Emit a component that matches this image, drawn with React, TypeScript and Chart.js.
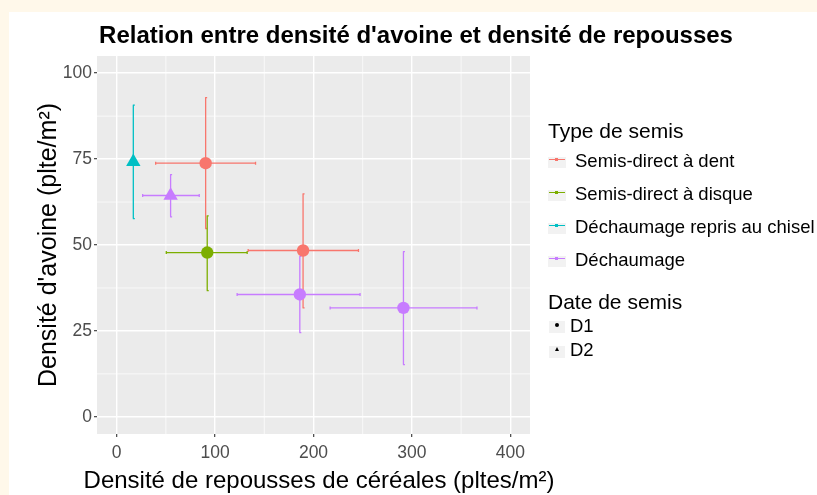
import React, { useEffect, useRef } from "react";
import { Chart, registerables } from "chart.js";
Chart.register(...registerables);

const FONT = "'Liberation Sans', Arial, Helvetica, sans-serif";

const chartTitle = "Relation entre densité d'avoine et densité de repousses";
const xTitle = "Densité de repousses de céréales (pltes/m²)";
const yTitle = "Densité d'avoine (plte/m²)";

const categories = [
  "Semis-direct à dent",
  "Semis-direct à disque",
  "Déchaumage repris au chisel",
  "Déchaumage",
];
const categoryColors = ["#F8766D", "#7CAE00", "#00BFC4", "#C77CFF"];
const dates = ["D1", "D2"];

// one entry per observation
const obsType = [0, 0, 1, 2, 3, 3, 3];
const obsDate = [0, 0, 0, 1, 1, 0, 0];
const repousses = [90.4, 189.4, 92.0, 16.9, 54.8, 186.1, 291.4];
const avoine = [73.8, 48.4, 47.8, 74.2, 64.4, 35.6, 31.7];
const repoussesMin: (number | null)[] = [39.6, 133.6, 50.4, null, 26.4, 122.4, 216.9];
const repoussesMax: (number | null)[] = [141.1, 245.7, 132.6, null, 83.9, 247.3, 366.1];
const avoineMin = [54.8, 31.7, 36.7, 57.7, 58.2, 24.5, 15.2];
const avoineMax = [92.9, 64.9, 58.5, 90.7, 70.5, 46.7, 48.1];

const xTicks = [0, 100, 200, 300, 400];
const yTicks = [0, 25, 50, 75, 100];
const xMinor = [50, 150, 250, 350];
const yMinor = [12.5, 37.5, 62.5, 87.5];

const panelPlugin = {
  id: "panelBg",
  beforeDraw(chart: any) {
    const { ctx, chartArea: a, scales } = chart;
    ctx.save();
    ctx.fillStyle = "#EBEBEB";
    ctx.fillRect(a.left, a.top, a.right - a.left, a.bottom - a.top);
    ctx.strokeStyle = "#FFFFFF";
    ctx.lineWidth = 0.7;
    ctx.beginPath();
    for (const v of xMinor) {
      const p = scales.x.getPixelForValue(v);
      ctx.moveTo(p, a.top);
      ctx.lineTo(p, a.bottom);
    }
    for (const v of yMinor) {
      const p = scales.y.getPixelForValue(v);
      ctx.moveTo(a.left, p);
      ctx.lineTo(a.right, p);
    }
    ctx.stroke();
    ctx.restore();
  },
};

const errorBarPlugin = {
  id: "errorBars",
  beforeDatasetsDraw(chart: any) {
    const { ctx, scales } = chart;
    const sx = scales.x;
    const sy = scales.y;
    ctx.save();
    ctx.lineWidth = 1.3;
    for (let i = 0; i < obsType.length; i++) {
      ctx.strokeStyle = categoryColors[obsType[i]];
      const px = sx.getPixelForValue(repousses[i]);
      const py = sy.getPixelForValue(avoine[i]);
      // vertical
      const y1 = sy.getPixelForValue(avoineMin[i]);
      const y2 = sy.getPixelForValue(avoineMax[i]);
      ctx.beginPath();
      ctx.moveTo(px, y1);
      ctx.lineTo(px, y2);
      ctx.moveTo(px - 0.5, y1);
      ctx.lineTo(px + 1.5, y1);
      ctx.moveTo(px - 0.5, y2);
      ctx.lineTo(px + 1.5, y2);
      ctx.stroke();
      // horizontal
      const xmn = repoussesMin[i];
      const xmx = repoussesMax[i];
      if (xmn !== null && xmx !== null) {
        const x1 = sx.getPixelForValue(xmn);
        const x2 = sx.getPixelForValue(xmx);
        ctx.beginPath();
        ctx.moveTo(x1, py);
        ctx.lineTo(x2, py);
        ctx.moveTo(x1, py - 1.5);
        ctx.lineTo(x1, py + 1.5);
        ctx.moveTo(x2, py - 1.5);
        ctx.lineTo(x2, py + 1.5);
        ctx.stroke();
      }
    }
    ctx.restore();
  },
};

function KeyType({ color, top }: { color: string; top: number }) {
  return (
    <div style={{ position: "absolute", left: 539, top, width: 18, height: 11, background: "#F2F2F2" }}>
      <div style={{ position: "absolute", left: 1, top: 2, width: 16, height: 1, background: color }} />
      <div style={{ position: "absolute", left: 7, top: 1, width: 3, height: 3, background: color }} />
    </div>
  );
}

export default function App() {
  const ref = useRef<HTMLCanvasElement>(null);
  useEffect(() => {
    document.body.style.background = "#FFF8EA";
    document.body.style.overflow = "hidden";
    const datasets = categories.map((cat, ci) => {
      const idx = obsType.map((t, i) => (t === ci ? i : -1)).filter((i) => i >= 0);
      return {
        label: cat,
        data: idx.map((i) => ({ x: repousses[i], y: avoine[i] })),
        pointStyle: idx.map((i) => (obsDate[i] === 0 ? "circle" : "triangle")),
        pointRadius: idx.map((i) => (obsDate[i] === 0 ? 6.2 : 8.3)),
        backgroundColor: categoryColors[ci],
        borderColor: categoryColors[ci],
        borderWidth: 0,
        showLine: false,
      };
    });
    const gridOpts = {
      color: "#FFFFFF",
      lineWidth: 1.4,
      tickColor: "#333333",
      tickLength: 3,
      tickWidth: 1.1,
      drawTicks: true,
    };
    const chart = new Chart(ref.current as HTMLCanvasElement, {
      type: "scatter",
      data: { datasets } as any,
      plugins: [panelPlugin, errorBarPlugin],
      options: {
        animation: false,
        responsive: false,
        layout: { padding: { left: 0, right: 287, top: 44, bottom: 0 } },
        plugins: { legend: { display: false }, tooltip: { enabled: false }, title: { display: false } },
        scales: {
          x: {
            type: "linear",
            min: -20,
            max: 420,
            afterBuildTicks: (s: any) => {
              s.ticks = xTicks.map((v) => ({ value: v }));
            },
            afterFit: (s: any) => {
              s.height = 61;
            },
            grid: gridOpts,
            border: { display: false },
            ticks: {
              color: "#4D4D4D",
              font: { family: FONT, size: 17.5 },
              padding: 5.5,
              maxRotation: 0,
              autoSkip: false,
            },
            title: { display: false },
          },
          y: {
            type: "linear",
            min: -5,
            max: 105,
            afterBuildTicks: (s: any) => {
              s.ticks = yTicks.map((v) => ({ value: v }));
            },
            afterFit: (s: any) => {
              s.width = 88;
            },
            grid: gridOpts,
            border: { display: false },
            ticks: {
              color: "#4D4D4D",
              font: { family: FONT, size: 17.5 },
              padding: 2,
              autoSkip: false,
            },
            title: {
              display: true,
              text: yTitle,
              color: "#000000",
              font: { family: FONT, size: 25 },
              padding: { top: 25.5, bottom: 0 },
            },
          },
        },
      } as any,
    });
    return () => chart.destroy();
  }, []);

  const typeTops = [140.3, 173.3, 206.3, 239.3];
  const typeKeyTops = [144.5, 177.5, 210.5, 243.5];
  return (
    <div
      style={{
        position: "absolute",
        left: 9,
        top: 12,
        width: 808,
        height: 483,
        background: "#FFFFFF",
        fontFamily: FONT,
        color: "#000",
      }}
    >
      <canvas ref={ref} width={808} height={483} style={{ display: "block", width: 808, height: 483 }} />
      <div
        style={{
          position: "absolute",
          left: 3,
          top: 10.5,
          width: 808,
          textAlign: "center",
          fontSize: 24,
          lineHeight: "24px",
          fontWeight: "bold",
          whiteSpace: "nowrap",
        }}
      >
        {chartTitle}
      </div>
      <div
        style={{
          position: "absolute",
          left: 10,
          top: 455.5,
          width: 600,
          textAlign: "center",
          fontSize: 24,
          lineHeight: "24px",
          whiteSpace: "nowrap",
        }}
      >
        {xTitle}
      </div>
      <div style={{ position: "absolute", left: 539, top: 108.2, fontSize: 21, lineHeight: "21px", whiteSpace: "nowrap" }}>
        Type de semis
      </div>
      {categories.map((c, i) => (
        <React.Fragment key={c}>
          <KeyType color={categoryColors[i]} top={typeKeyTops[i]} />
          <div
            style={{
              position: "absolute",
              left: 566,
              top: typeTops[i],
              fontSize: 18.5,
              lineHeight: "18.5px",
              whiteSpace: "nowrap",
            }}
          >
            {c}
          </div>
        </React.Fragment>
      ))}
      <div style={{ position: "absolute", left: 539, top: 279.2, fontSize: 21, lineHeight: "21px", whiteSpace: "nowrap" }}>
        Date de semis
      </div>
      {dates.map((d, i) => (
        <React.Fragment key={d}>
          <div
            style={{
              position: "absolute",
              left: 540,
              top: 309 + i * 24.5,
              width: 16,
              height: 12,
              background: "#F2F2F2",
            }}
          >
            {i === 0 ? (
              <div style={{ position: "absolute", left: 6, top: 2, width: 4, height: 4, borderRadius: 2, background: "#000" }} />
            ) : (
              <div
                style={{
                  position: "absolute",
                  left: 6,
                  top: 1,
                  width: 0,
                  height: 0,
                  borderLeft: "2.5px solid transparent",
                  borderRight: "2.5px solid transparent",
                  borderBottom: "4px solid #000",
                }}
              />
            )}
          </div>
          <div
            style={{
              position: "absolute",
              left: 561,
              top: 305.3 + i * 24,
              fontSize: 18.5,
              lineHeight: "18.5px",
              whiteSpace: "nowrap",
            }}
          >
            {d}
          </div>
        </React.Fragment>
      ))}
    </div>
  );
}
